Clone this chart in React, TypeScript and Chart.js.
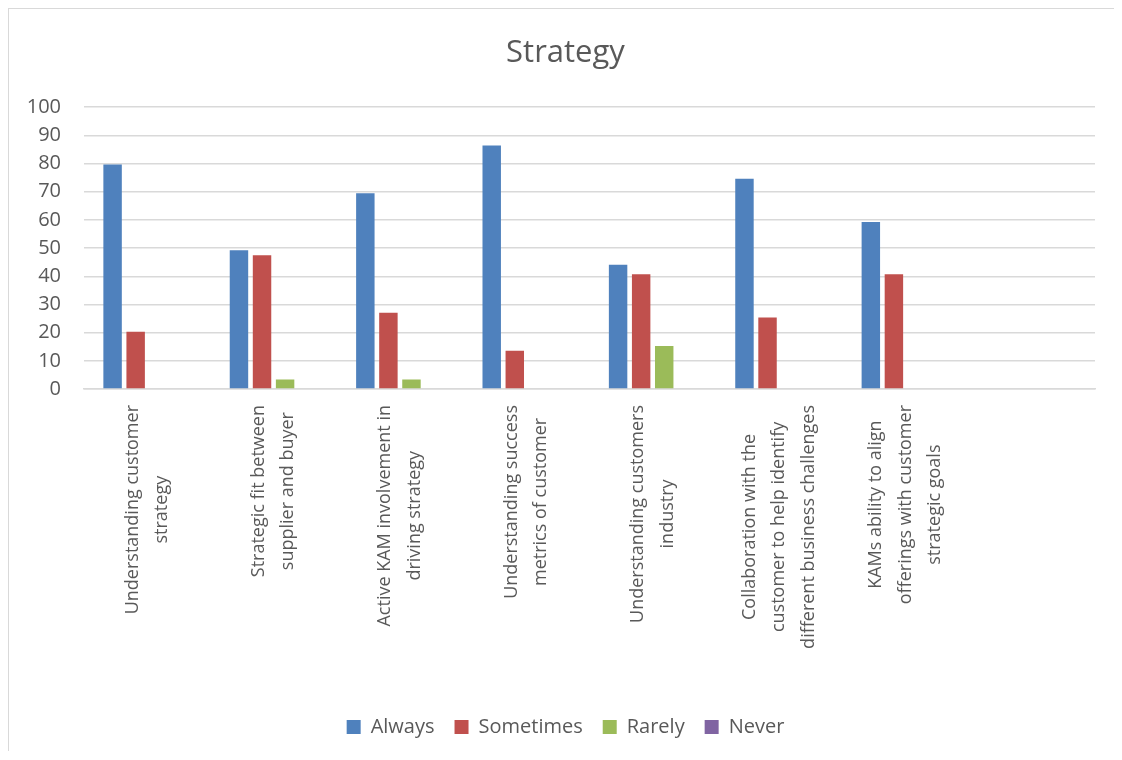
import React, { useEffect, useRef } from "react";
import { Chart, registerables } from "chart.js";

Chart.register(...registerables);

const categories: string[][] = [
  ["Understanding customer", "strategy"],
  ["Strategic fit between", "supplier and buyer"],
  ["Active KAM involvement in", "driving strategy"],
  ["Understanding success", "metrics of customer"],
  ["Understanding customers", "industry"],
  ["Collaboration with the", "customer to help identify", "different business challenges"],
  ["KAMs ability to align", "offerings with customer", "strategic goals"],
  [""],
];

const always = [79.7, 49.2, 69.5, 86.4, 44.1, 74.6, 59.3, null];
const sometimes = [20.3, 47.5, 27.1, 13.6, 40.7, 25.4, 40.7, null];
const rarely = [0, 3.4, 3.4, 0, 15.3, 0, 0, null];
const never = [0, 0, 0, 0, 0, 0, 0, null];

const seriesNames = ["Always", "Sometimes", "Rarely", "Never"];
const seriesColors = ["#4f81bd", "#c0504d", "#9bbb59", "#8064a2"];

const yTicks = { min: 0, max: 100, step: 10 };

const TEXT = "#595959";
const GRID = "#d9d9d9";
const FONT = '"Open Sans", "DejaVu Sans", sans-serif';

const xLabelPlugin = {
  id: "xLabelPlugin",
  afterDraw(chart: any) {
    const { ctx, chartArea } = chart;
    const x = chart.scales.x;
    ctx.save();
    ctx.font = `18px ${FONT}`;
    ctx.fillStyle = TEXT;
    ctx.textAlign = "center";
    ctx.textBaseline = "middle";
    categories.forEach((lines, i) => {
      const px = x.getPixelForTick(i);
      const maxW = Math.max(0, ...lines.map((l) => ctx.measureText(l).width));
      const yTop = chartArea.bottom + 16;
      ctx.save();
      ctx.translate(px, yTop);
      ctx.rotate(-Math.PI / 2);
      lines.forEach((l, j) => {
        const v = (j - (lines.length - 1) / 2) * 29.5;
        ctx.fillText(l, -maxW / 2, v);
      });
      ctx.restore();
    });
    ctx.restore();
  },
};

export default function App() {
  const ref = useRef<HTMLCanvasElement | null>(null);

  useEffect(() => {
    document.body.style.overflow = "hidden";
    if (!ref.current) return;
    const values = [always, sometimes, rarely, never];
    const chart = new Chart(ref.current, {
      type: "bar",
      data: {
        labels: categories,
        datasets: seriesNames.map((name, i) => ({
          label: name,
          data: values[i] as any,
          backgroundColor: seriesColors[i],
          borderWidth: 0,
          categoryPercentage: 0.73,
          barPercentage: 0.8,
        })),
      },
      options: {
        animation: false,
        responsive: true,
        maintainAspectRatio: false,
        layout: { padding: { left: 0, right: 0, top: 0, bottom: 4 } },
        plugins: {
          title: {
            display: true,
            text: "Strategy",
            color: TEXT,
            font: { family: FONT, size: 31, weight: "normal" as any, lineHeight: 1.2 },
            padding: { top: 26, bottom: 35 },
          },
          legend: {
            display: true,
            position: "bottom",
            labels: {
              color: TEXT,
              font: { family: FONT, size: 20 },
              boxWidth: 14,
              boxHeight: 14,
              padding: 20,
            },
          },
          tooltip: { enabled: false },
        },
        scales: {
          x: {
            grid: { display: false },
            border: { display: true, color: GRID, width: 1.5 },
            ticks: { display: false },
            afterFit: (s: any) => {
              s.height = 308;
            },
          },
          y: {
            min: yTicks.min,
            max: yTicks.max,
            grid: { color: GRID, lineWidth: 1.5, drawTicks: false },
            border: { display: false },
            ticks: {
              stepSize: yTicks.step,
              color: TEXT,
              font: { family: FONT, size: 20 },
              padding: 23,
            },
            afterFit: (s: any) => {
              s.width = 75;
            },
          },
          yRight: {
            position: "right",
            min: yTicks.min,
            max: yTicks.max,
            grid: { display: false },
            border: { display: false },
            ticks: { display: false },
            afterFit: (s: any) => {
              s.width = 27;
            },
          },
        },
      },
      plugins: [xLabelPlugin],
    });
    return () => chart.destroy();
  }, []);

  return (
    <div
      style={{
        width: 1113,
        height: 742,
        borderLeft: "1px solid #d9d9d9",
        borderTop: "1px solid #d9d9d9",
        background: "#fff",
        position: "relative",
        overflow: "hidden",
      }}
    >
      <canvas ref={ref} style={{ display: "block" }} />
    </div>
  );
}
